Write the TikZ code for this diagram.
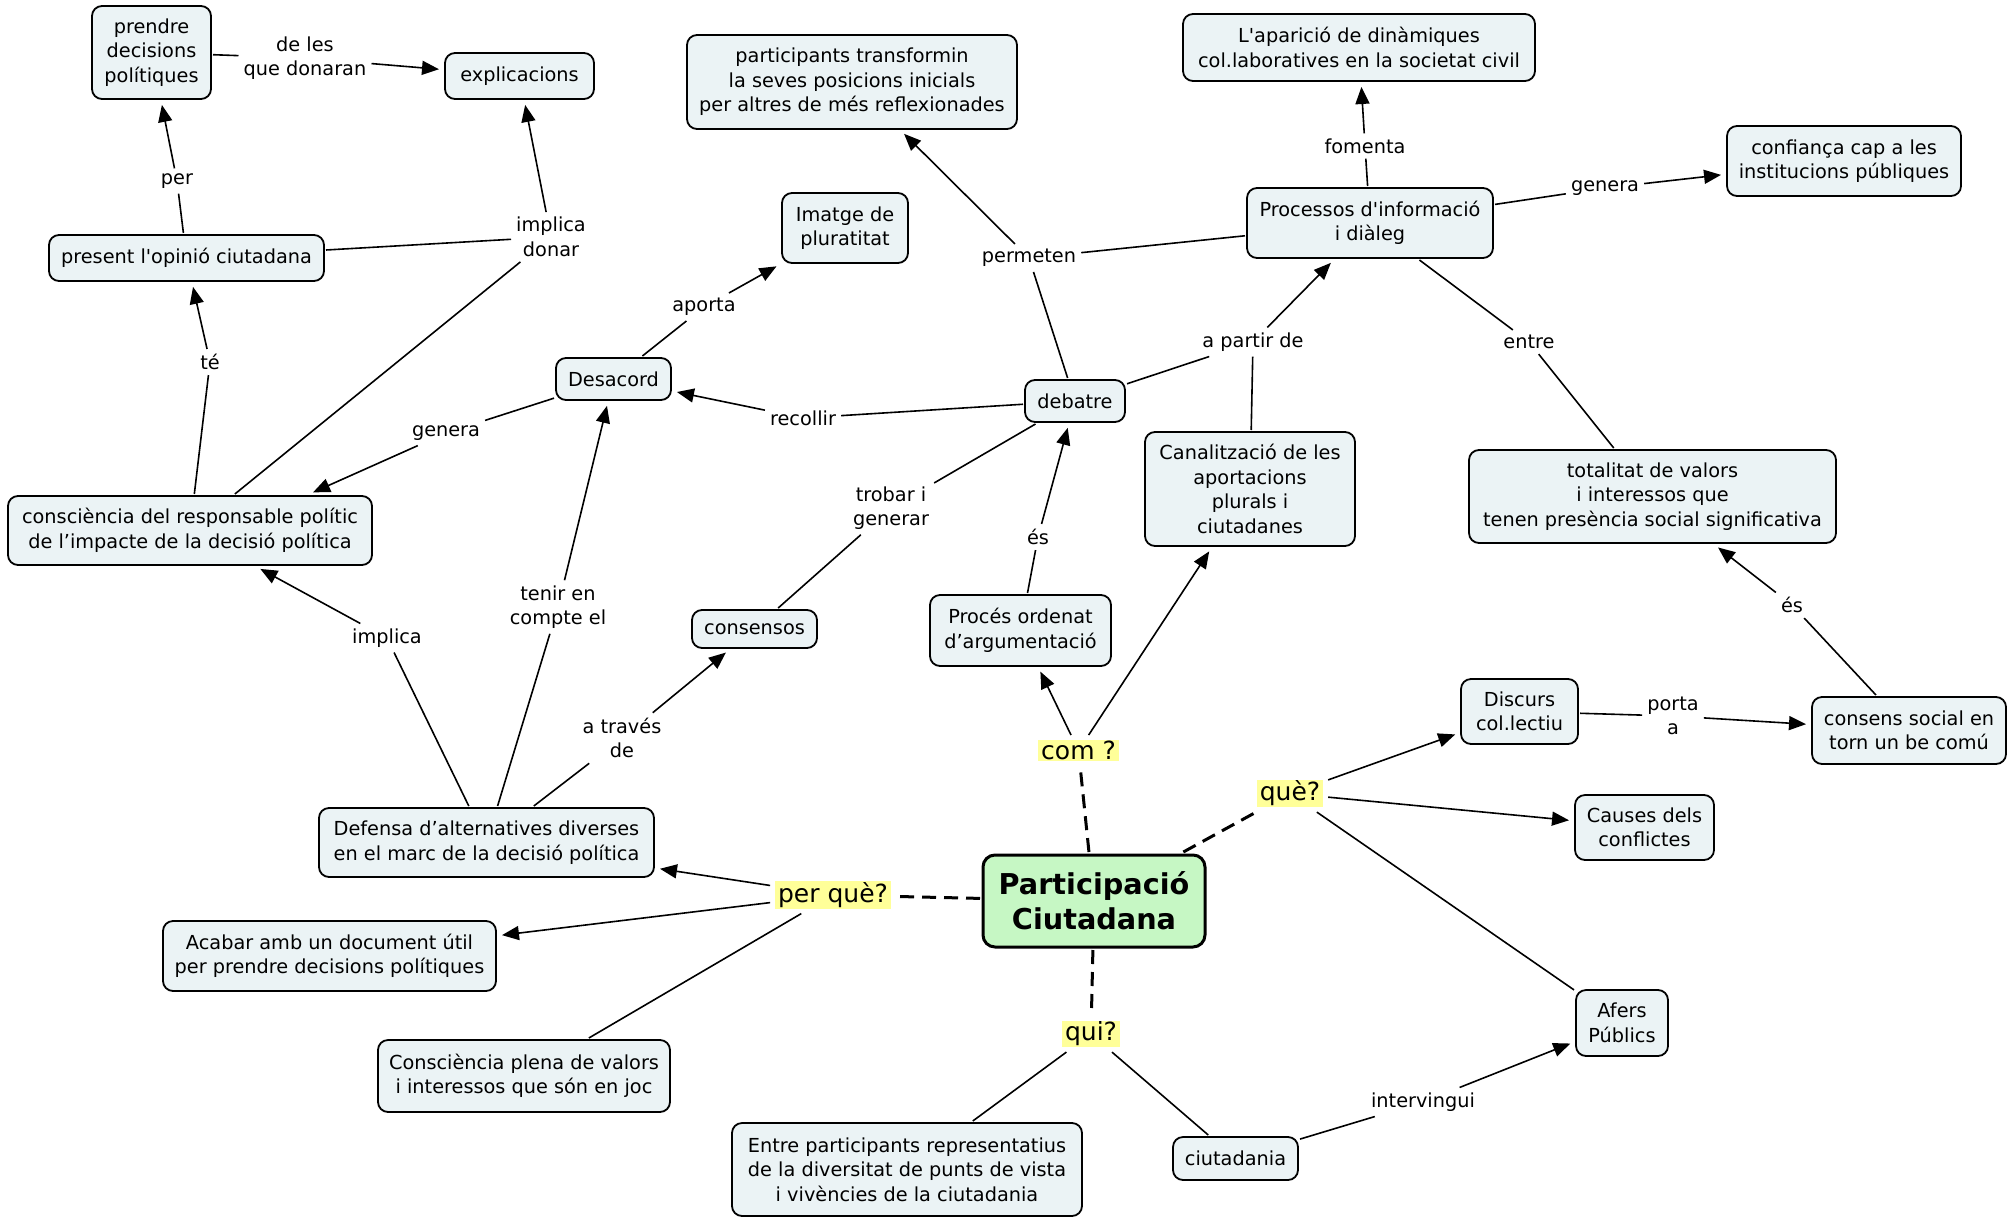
\documentclass[tikz,border=0pt]{standalone}
\usepackage{fontspec}
\setmainfont{DejaVu Sans}[Ligatures=TeXOff]
\usetikzlibrary{arrows.meta}
\definecolor{boxfill}{RGB}{235,243,245}
\definecolor{rootfill}{RGB}{198,247,196}
\definecolor{qfill}{RGB}{255,255,153}

\tikzset{
  concept/.style={draw=black, line width=1.8pt, rounded corners=10pt, fill=boxfill,
    align=center, inner sep=0pt, outer sep=2pt, font=\fontsize{19.3}{24.5}\selectfont},
  root/.style={draw=black, line width=3pt, rounded corners=12pt, fill=rootfill,
    align=center, inner sep=0pt, outer sep=3pt, font=\fontsize{28.7}{35}\selectfont\bfseries},
  linkph/.style={align=center, inner sep=5pt, font=\fontsize{19.3}{24.5}\selectfont},
  question/.style={fill=qfill, inner xsep=3pt, inner ysep=1pt, outer sep=5pt,
    font=\fontsize{25}{30}\selectfont},
  conn/.style={line width=1.6pt},
  arr/.style={conn, -{Triangle[length=17pt,width=14pt]}, shorten >=4pt},
  dashconn/.style={line width=3pt, dash pattern=on 14pt off 8pt},
}

\begin{document}
\begin{tikzpicture}[x=1pt, y=-1pt]
\useasboundingbox (0,0) rectangle (2010,1221);

% ---- concepts ----
\node[concept, minimum width=119pt, minimum height=93pt] (prendre) at (151.5,52.5) {prendre\\decisions\\polítiques};
\node[concept, minimum width=149pt, minimum height=46pt] (explic) at (519.5,76) {explicacions};
\node[concept, minimum width=275pt, minimum height=46pt] (present) at (186.5,258) {present l'opinió ciutadana};
\node[concept, minimum width=364pt, minimum height=69pt] (consc) at (190,530.5) {consciència del responsable polític\\de l’impacte de la decisió política};
\node[concept, minimum width=115pt, minimum height=42pt] (desacord) at (613.5,379) {Desacord};
\node[concept, minimum width=126pt, minimum height=70pt] (imatge) at (845,228) {Imatge de\\pluratitat};
\node[concept, minimum width=330pt, minimum height=94pt] (partic) at (852,82) {participants transformin\\la seves posicions inicials\\per altres de més reflexionades};
\node[concept, minimum width=352pt, minimum height=67pt] (aparicio) at (1359,47.5) {L'aparició de dinàmiques\\col.laboratives en la societat civil};
\node[concept, minimum width=246pt, minimum height=70pt] (process) at (1370,223) {Processos d'informació\\i diàleg};
\node[concept, minimum width=234pt, minimum height=70pt] (confianca) at (1844,161) {confiança cap a les\\institucions públiques};
\node[concept, minimum width=100pt, minimum height=42pt] (debatre) at (1075,401) {debatre};
\node[concept, minimum width=210pt, minimum height=114pt] (canal) at (1250,489) {Canalització de les\\aportacions\\plurals i\\ciutadanes};
\node[concept, minimum width=367pt, minimum height=93pt] (totalitat) at (1652.5,496.5) {totalitat de valors\\i interessos que\\tenen presència social significativa};
\node[concept, minimum width=125pt, minimum height=38pt] (consensos) at (754.5,629) {consensos};
\node[concept, minimum width=181pt, minimum height=71pt] (proces) at (1020.5,630.5) {Procés ordenat\\d’argumentació};
\node[concept, minimum width=335pt, minimum height=69pt] (defensa) at (486.5,842.5) {Defensa d’alternatives diverses\\en el marc de la decisió política};
\node[concept, minimum width=117pt, minimum height=65pt] (discurs) at (1519.5,711.5) {Discurs\\col.lectiu};
\node[concept, minimum width=194pt, minimum height=67pt] (consens) at (1909,730.5) {consens social en\\torn un be comú};
\node[concept, minimum width=139pt, minimum height=65pt] (causes) at (1644.5,827.5) {Causes dels\\conflictes};
\node[concept, minimum width=92pt, minimum height=66pt] (afers) at (1622,1023) {Afers\\Públics};
\node[concept, minimum width=333pt, minimum height=70pt] (acabar) at (329.5,956) {Acabar amb un document útil\\per prendre decisions polítiques};
\node[concept, minimum width=292pt, minimum height=72pt] (plena) at (524,1076) {Consciència plena de valors\\i interessos que són en joc};
\node[concept, minimum width=350pt, minimum height=93pt] (entrep) at (907,1169.5) {Entre participants representatius\\de la diversitat de punts de vista\\i vivències de la ciutadania};
\node[concept, minimum width=125pt, minimum height=43pt] (ciutadania) at (1235.5,1158.5) {ciutadania};
\node[root, minimum width=222pt, minimum height=92pt] (pc) at (1094,901) {Participació\\Ciutadana};

% ---- questions ----
\node[question] (qcom) at (1078.5,750.5) {com ?};
\node[question] (qque) at (1290,793.5) {què?};
\node[question] (qperque) at (833,895) {per què?};
\node[question] (qqui) at (1091,1034) {qui?};

% ---- linking phrases ----
\node[linkph] (lDeLes) at (305,58) {de les\\que donaran};
\node[linkph] (lPer) at (177,181) {per};
\node[linkph] (lImplDonar) at (551,237) {implica\\donar};
\node[linkph] (lTe) at (210,362) {té};
\node[linkph] (lGeneraL) at (446,433) {genera};
\node[linkph] (lImplica) at (387,638) {implica};
\node[linkph] (lTenir) at (558,607) {tenir en\\compte el};
\node[linkph] (lTraves) at (622,738) {a través\\de};
\node[linkph] (lAporta) at (704,307) {aporta};
\node[linkph] (lRecollir) at (803,418) {recollir};
\node[linkph] (lTrobar) at (891,508) {trobar i\\generar};
\node[linkph] (lEsA) at (1038,537) {és};
\node[linkph] (lPermeten) at (1029,258) {permeten};
\node[linkph] (lApartir) at (1253,342) {a partir de};
\node[linkph] (lFomenta) at (1365,146) {fomenta};
\node[linkph] (lGeneraR) at (1605,188) {genera};
\node[linkph] (lEntre) at (1529,342) {entre};
\node[linkph] (lEsB) at (1792,605) {és};
\node[linkph] (lPorta) at (1673,716) {porta\\a};
\node[linkph] (lInterv) at (1423,1102) {intervingui};

% ---- dashed links from the root ----
\draw[dashconn] (pc) -- (qcom);
\draw[dashconn] (pc) -- (qque);
\draw[dashconn] (pc) -- (qperque);
\draw[dashconn] (pc) -- (qqui);

% ---- per què? ----
\draw[arr] (qperque) -- (defensa);
\draw[arr] (qperque) -- (acabar);
\draw[conn] (qperque) -- (plena);

% ---- com ? ----
\draw[arr] (qcom) -- (proces);
\draw[arr] (qcom) -- (canal);

% ---- què? ----
\draw[arr] (qque) -- (discurs);
\draw[arr] (qque) -- (causes);
\draw[conn] (qque) -- (afers);

% ---- qui? ----
\draw[conn] (qqui) -- (entrep);
\draw[conn] (qqui) -- (ciutadania);
\draw[conn] (ciutadania) -- (lInterv);
\draw[arr] (lInterv) -- (afers);

% ---- right branch ----
\draw[conn] (discurs) -- (lPorta);
\draw[arr] (lPorta) -- (consens);
\draw[conn] (consens) -- (lEsB);
\draw[arr] (lEsB) -- (totalitat);
\draw[conn] (process) -- (lEntre);
\draw[conn] (lEntre) -- (totalitat);
\draw[conn] (process) -- (lFomenta);
\draw[arr] (lFomenta) -- (aparicio);
\draw[conn] (process) -- (lGeneraR);
\draw[arr] (lGeneraR) -- (confianca);

% ---- debate ----
\draw[conn] (proces) -- (lEsA);
\draw[arr] (lEsA) -- (debatre);
\draw[conn] (debatre) -- (lApartir);
\draw[conn] (canal) -- (lApartir);
\draw[arr] (lApartir) -- (process);
\draw[conn] (debatre) -- (lPermeten);
\draw[conn] (process) -- (lPermeten);
\draw[arr] (lPermeten) -- (partic);
\draw[conn] (debatre) -- (lRecollir);
\draw[arr] (lRecollir) -- (desacord);
\draw[conn] (consensos) -- (lTrobar);
\draw[conn] (lTrobar) -- (debatre);

% ---- left branch ----
\draw[conn] (defensa) -- (lTraves);
\draw[arr] (lTraves) -- (consensos);
\draw[conn] (defensa) -- (lTenir);
\draw[arr] (lTenir) -- (desacord);
\draw[conn] (defensa) -- (lImplica);
\draw[arr] (lImplica) -- (consc);
\draw[conn] (desacord) -- (lAporta);
\draw[arr] (lAporta) -- (imatge);
\draw[conn] (desacord) -- (lGeneraL);
\draw[arr] (lGeneraL) -- (consc.17);
\draw[conn] (consc) -- (lTe);
\draw[arr] (lTe) -- (present);
\draw[conn] (consc) -- (lImplDonar);
\draw[conn] (present) -- (lImplDonar);
\draw[arr] (lImplDonar) -- (explic);
\draw[conn] (present) -- (lPer);
\draw[arr] (lPer) -- (prendre);
\draw[conn] (prendre) -- (lDeLes);
\draw[arr] (lDeLes) -- (explic);
\end{tikzpicture}
\end{document}
